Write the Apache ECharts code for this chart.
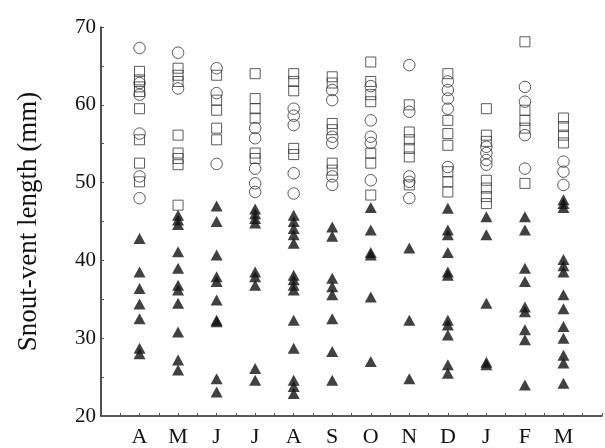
<!DOCTYPE html>
<html><head><meta charset="utf-8">
<script src="https://cdn.jsdelivr.net/npm/echarts@6/dist/echarts.min.js"></script>
<style>html,body{margin:0;padding:0;background:#fff}#c{width:605px;height:448px}</style>
</head><body><div id="c"></div>
<script>
var months = ['A','M','J','J','A','S','O','N','D','J','F','M'];
var yTicks = [20,30,40,50,60,70];
var circles = [
  [67.3, 62.8, 61.3, 56.3, 50.8, 48.0],
  [66.7, 62.1],
  [64.7, 61.5, 52.4],
  [57.0, 55.7, 51.8, 49.9, 48.8],
  [59.5, 58.6, 57.4, 51.2, 48.6],
  [61.9, 60.6, 55.9, 55.1, 50.8, 49.7],
  [62.4, 58.0, 55.9, 55.1, 50.3],
  [65.1, 59.1, 50.8, 50.1, 48.0],
  [63.0, 61.9, 60.8, 59.5, 52.0],
  [54.6, 53.8, 52.9, 52.3],
  [62.3, 60.4, 56.1, 51.8],
  [52.7, 51.4, 49.7]
];
var squares = [
  [64.3, 63.2, 62.3, 61.7, 59.5, 55.5, 52.5, 50.1],
  [64.7, 63.8, 63.0, 56.1, 53.8, 53.1, 52.3, 47.1],
  [63.8, 60.6, 59.3, 57.0, 55.5],
  [64.0, 60.8, 59.5, 58.3, 53.8, 53.1],
  [64.0, 63.0, 61.8, 54.4, 53.6],
  [63.6, 62.8, 57.6, 56.8, 52.5, 51.6],
  [65.5, 63.0, 61.3, 60.4, 53.8, 52.5, 48.4],
  [60.0, 56.5, 55.5, 54.4, 53.3, 49.7],
  [64.0, 58.0, 56.3, 54.8, 51.4, 50.1, 48.8],
  [59.5, 56.1, 55.3, 50.3, 49.3, 48.2, 47.3],
  [68.1, 59.3, 58.0, 57.0, 49.9],
  [58.3, 57.2, 56.1, 55.1]
];
var triangles = [
  [42.8, 38.5, 36.4, 34.4, 32.5, 28.7, 28.0],
  [45.8, 45.2, 44.6, 41.1, 39.0, 36.8, 36.2, 34.5, 30.8, 27.2, 25.9],
  [47.0, 45.0, 40.7, 37.9, 37.3, 34.9, 32.3, 32.1, 24.8, 23.1],
  [46.6, 46.0, 45.4, 44.8, 38.5, 37.9, 36.8, 26.1, 24.6],
  [45.8, 45.0, 44.1, 43.3, 42.2, 38.1, 37.5, 36.8, 36.2, 32.3, 28.7, 24.6, 23.8, 22.9],
  [44.3, 43.1, 37.7, 36.6, 35.6, 32.5, 28.3, 24.6],
  [46.8, 43.9, 41.0, 40.7, 35.3, 27.0],
  [41.6, 32.3, 24.8],
  [46.7, 43.9, 43.3, 41.0, 38.5, 38.1, 32.3, 31.7, 30.4, 26.6, 25.5],
  [45.6, 43.3, 34.5, 26.9, 26.6],
  [45.6, 43.9, 39.0, 37.3, 34.0, 33.4, 31.1, 29.8, 24.0],
  [47.8, 47.3, 46.8, 40.1, 39.3, 38.5, 35.6, 33.8, 31.5, 30.0, 27.8, 26.8, 24.2]
];

function pts(groups) {
  var out = [];
  groups.forEach(function (g, i) { g.forEach(function (v) { out.push([i + 1, v]); }); });
  return out;
}
var font = '"Liberation Serif", "Times New Roman", serif';
var axisCol = '#222';
var chart = echarts.init(document.getElementById('c'), null, {renderer: 'canvas'});
chart.setOption({
  animation: false,
  backgroundColor: '#fff',
  grid: {left: 101, top: 27, width: 506, height: 389, containLabel: false},
  xAxis: {
    type: 'value', min: 0, max: 13, interval: 0.5,
    splitLine: {show: false},
    axisLine: {show: true, lineStyle: {color: axisCol, width: 1.6}},
    axisTick: {show: true, inside: true, length: 3, lineStyle: {color: '#555', width: 1}},
    axisLabel: {
      color: '#111', fontFamily: font, fontSize: 22, margin: 10,
      formatter: function (v) {
        if (Math.abs(v - Math.round(v)) > 1e-6) return '';
        var k = Math.round(v);
        return (k >= 1 && k <= 12) ? months[k - 1] : '';
      }
    }
  },
  yAxis: {
    type: 'value', min: yTicks[0], max: yTicks[yTicks.length - 1], interval: 5,
    name: 'Snout-vent length (mm)', nameLocation: 'middle', nameGap: 59,
    nameTextStyle: {color: '#111', fontFamily: font, fontSize: 27},
    splitLine: {show: false},
    axisLine: {show: true, lineStyle: {color: axisCol, width: 1.6}},
    axisTick: {show: true, inside: true, length: 3, lineStyle: {color: '#555', width: 1}},
    axisLabel: {
      color: '#111', fontFamily: font, fontSize: 21, margin: 5,
      formatter: function (v) { return yTicks.indexOf(v) >= 0 ? String(v) : ''; }
    }
  },
  series: [
    {type: 'scatter', data: pts(triangles), symbol: 'triangle', symbolSize: [12, 11],
     itemStyle: {color: '#111', borderColor: '#111', borderWidth: 0}},
    {type: 'scatter', data: pts(squares), symbol: 'rect', symbolSize: 10,
     itemStyle: {color: 'rgba(255,255,255,0)', borderColor: '#333', borderWidth: 1}},
    {type: 'scatter', data: pts(circles), symbol: 'circle', symbolSize: 11.5,
     itemStyle: {color: 'rgba(255,255,255,0)', borderColor: '#333', borderWidth: 1}}
  ]
});
</script></body></html>
